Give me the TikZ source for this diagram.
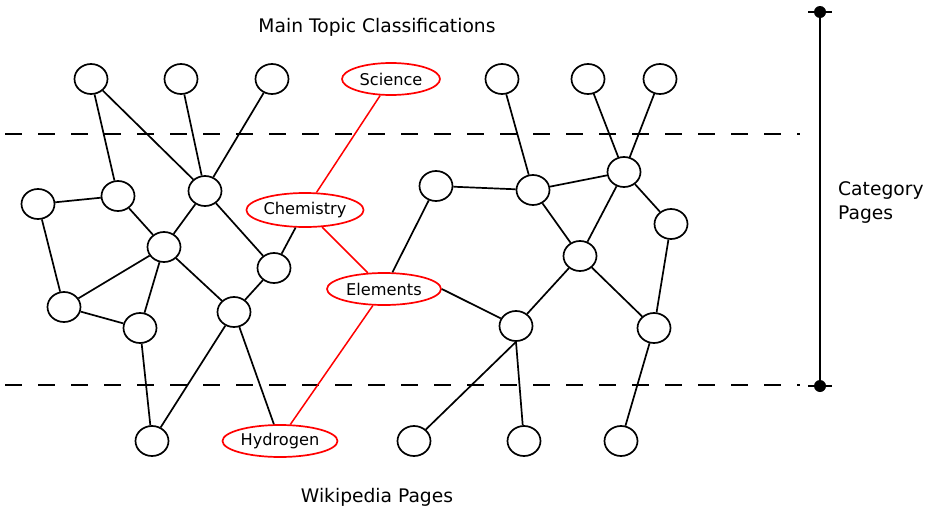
\documentclass[tikz,border=0pt]{standalone}
\usepackage{fontspec}
\setmainfont{DejaVu Sans}
\usetikzlibrary{shapes.geometric}

\begin{document}
\begin{tikzpicture}[
    x=1pt, y=-1pt,
    line width=1.7pt,
    page/.style={draw, ellipse, inner sep=0pt,
                 minimum width=33pt, minimum height=30pt},
    topic/.style={draw=red, ellipse, inner sep=0pt, minimum height=32pt,
                  font=\fontsize{16.2}{18}\selectfont},
    link/.style={red, line width=1.5pt},
    level/.style={dash pattern=on 17pt off 16pt},
    caption/.style={font=\fontsize{18.7}{24}\selectfont}
  ]
  \useasboundingbox (0,0) rectangle (932,509);

  % Levels
  \draw[level] (5,134) -- (800,134);
  \draw[level] (5,385) -- (800,385);

  % Top row
  \node[page] (t1) at (91,79) {};
  \node[page] (t2) at (181,79) {};
  \node[page] (t3) at (272,79) {};
  \node[topic, minimum width=98pt] (science) at (391,79) {Science};
  \node[page] (t5) at (502,79) {};
  \node[page] (t6) at (588,79) {};
  \node[page] (t7) at (660,79) {};

  % Category pages
  \node[page] (a) at (38,204) {};
  \node[page] (b) at (118,196) {};
  \node[page] (c) at (205,191) {};
  \node[page] (d) at (164,247) {};
  \node[page] (e) at (274,268) {};
  \node[page] (f) at (64,307) {};
  \node[page] (g) at (140,328) {};
  \node[page] (h) at (234,312) {};
  \node[topic, minimum width=114pt, minimum height=34pt] (chemistry) at (305,210) {Chemistry};
  \node[topic, minimum width=114pt] (elements) at (384,289) {Elements};
  \node[page] (i) at (436,186) {};
  \node[page] (j) at (533,190) {};
  \node[page] (k) at (624,172) {};
  \node[page] (l) at (671,224) {};
  \node[page] (m) at (580,256) {};
  \node[page] (n) at (516,326) {};
  \node[page] (o) at (654,328) {};

  % Bottom row
  \node[page] (p) at (152,441) {};
  \node[topic, minimum width=115pt] (hydrogen) at (280,441) {Hydrogen};
  \node[page] (q) at (414,441) {};
  \node[page] (r) at (524,441) {};
  \node[page] (s) at (621,441) {};

  % Plain links
  \foreach \u/\v in {t1/b, t1/c, t2/c, t3/c, a/b, a/f, b/d, c/d, c/e,
                     d/f, d/g, d/h, f/g, e/h, h/p, g/p, chemistry/e,
                     elements/i, t5/j, t6/k, t7/k, i/j, j/k,
                     j/m, k/m, k/l, l/o, m/n, m/o, o/s}
    \draw (\u) -- (\v);
  \draw (elements.east) -- (n);
  \draw (h) -- (hydrogen.110);
  \draw (n.south) -- (q);
  \draw (n.south) -- (r);

  % Path through the topics
  \draw[link] (science) -- (chemistry);
  \draw[link] (chemistry) -- (elements);
  \draw[link] (elements.236) -- (hydrogen.58);

  % Scale bar
  \coordinate (top) at (820,12);
  \coordinate (bot) at (820,386);
  \draw (top) -- (bot);
  \draw (808,12) -- (832,12);
  \draw (808,386) -- (832,386);
  \fill (top) circle (6pt);
  \fill (bot) circle (6pt);

  % Captions
  \node[caption] (main) at (377,27) {Main Topic Classifications};
  \node[caption] (wiki) at (377,497) {Wikipedia Pages};
  \node[caption, anchor=west, align=left] (cat) at (834,203) {Category\\Pages};
\end{tikzpicture}
\end{document}
